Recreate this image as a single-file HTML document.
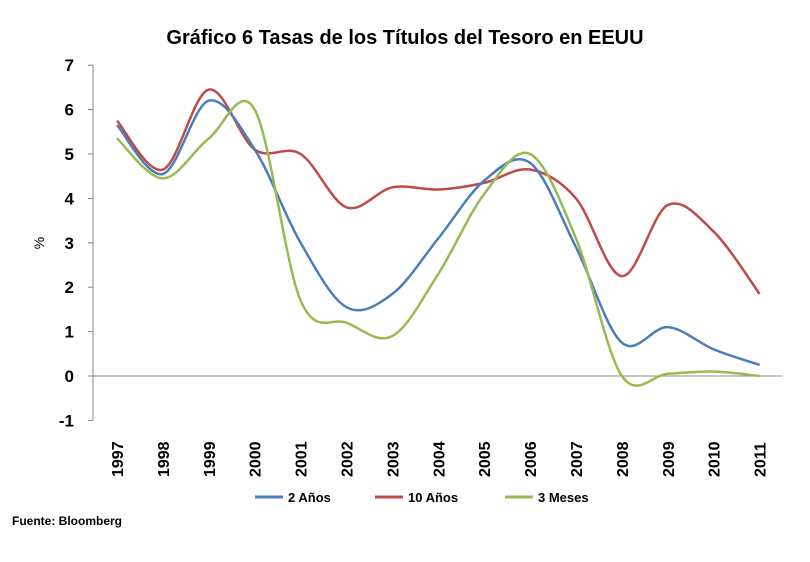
<!DOCTYPE html>
<html><head><meta charset="utf-8"><style>
body{margin:0;background:#fff;width:810px;height:557px;overflow:hidden}
</style></head><body>
<svg id="s" width="810" height="557" xmlns="http://www.w3.org/2000/svg" font-family="Liberation Sans, sans-serif">
<text x="405" y="44" text-anchor="middle" font-size="20" font-weight="bold" fill="#000">Gráfico 6 Tasas  de los Títulos del Tesoro en EEUU</text>
<line x1="93" y1="65" x2="93" y2="420" stroke="#888" stroke-width="1"/>
<line x1="93" y1="376" x2="782" y2="376" stroke="#888" stroke-width="1"/>
<g id="yt" font-size="17" font-weight="bold" text-anchor="end"></g>
<g id="xt" font-size="16" font-weight="bold"></g>
<text x="44" y="243" font-size="14" transform="rotate(-90 44 243)" text-anchor="middle">%</text>
<g id="lines" fill="none" stroke-width="2.5"></g>
<g font-size="13" font-weight="bold">
<line x1="255" y1="497" x2="283" y2="497" stroke="#4a7ebb" stroke-width="3"/><text x="288" y="502">2 Años</text>
<line x1="375" y1="497" x2="403" y2="497" stroke="#be4b48" stroke-width="3"/><text x="408" y="502">10 Años</text>
<line x1="505" y1="497" x2="533" y2="497" stroke="#98b954" stroke-width="3"/><text x="538" y="502">3 Meses</text>
</g>
<text x="12" y="525" font-size="12" font-weight="bold">Fuente: Bloomberg</text>
</svg>
<script>
var ns="http://www.w3.org/2000/svg";
function Y(v){return 376-v*44.4}
function X(i){return 117+i*45.9}
var yt=document.getElementById('yt');
for(var v=-1;v<=7;v++){var t=document.createElementNS(ns,'text');t.setAttribute('x',74);t.setAttribute('y',Y(v)+6);t.textContent=v;yt.appendChild(t);
var l=document.createElementNS(ns,'line');l.setAttribute('x1',88);l.setAttribute('x2',93);l.setAttribute('y1',Y(v));l.setAttribute('y2',Y(v));l.setAttribute('stroke','#888');yt.appendChild(l);}
var xt=document.getElementById('xt');
for(var i=0;i<15;i++){var t=document.createElementNS(ns,'text');var x=X(i)+6,y=477;t.setAttribute('x',x);t.setAttribute('y',y);t.setAttribute('transform','rotate(-90 '+x+' '+y+')');t.textContent=1997+i;xt.appendChild(t);}
var data=[["#be4b48",[5.75,4.65,6.45,5.1,5.0,3.8,4.25,4.2,4.35,4.65,4.0,2.25,3.85,3.25,1.85]],
["#4a7ebb",[5.65,4.55,6.2,5.1,3.0,1.55,1.85,3.1,4.4,4.8,2.9,0.75,1.1,0.6,0.25]],
["#98b954",[5.35,4.45,5.35,6.0,1.7,1.2,0.9,2.3,4.1,5.0,3.1,0.0,0.05,0.1,0.0]]];
var g=document.getElementById('lines');
data.forEach(function(d){var p=d[1].map(function(v,i){return [X(i),Y(v)]});
var s='M'+p[0][0]+','+p[0][1];
for(var i=0;i<p.length-1;i++){var p0=p[i-1]||p[i],p1=p[i],p2=p[i+1],p3=p[i+2]||p2;
s+=' C'+(p1[0]+(p2[0]-p0[0])/6)+','+(p1[1]+(p2[1]-p0[1])/6)+' '+(p2[0]-(p3[0]-p1[0])/6)+','+(p2[1]-(p3[1]-p1[1])/6)+' '+p2[0]+','+p2[1];}
var e=document.createElementNS(ns,'path');e.setAttribute('d',s);e.setAttribute('stroke',d[0]);g.appendChild(e);});
</script>
</body></html>
